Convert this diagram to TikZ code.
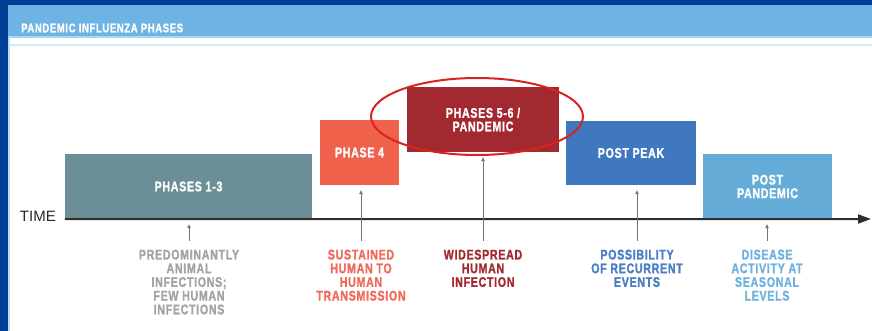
\documentclass[tikz,border=0pt]{standalone}
\usepackage{fontspec}
\setmainfont{Liberation Sans}
\newfontfamily\condfont[FakeStretch=0.76,LetterSpace=5,FakeBold=1.2]{Liberation Sans Bold}
\usetikzlibrary{arrows.meta}
\definecolor{frameblue}{HTML}{003F96}
\definecolor{headblue}{HTML}{6DB4E4}
\definecolor{c13}{HTML}{6C8F97}
\definecolor{c4}{HTML}{F0614C}
\definecolor{c56}{HTML}{A2292F}
\definecolor{cpp}{HTML}{3F78BF}
\definecolor{cppd}{HTML}{66ACD8}
\definecolor{t13}{HTML}{A3A3A3}
\definecolor{t4}{HTML}{F06A5A}
\definecolor{t56}{HTML}{A02A30}
\definecolor{tpp}{HTML}{4A7DC4}
\definecolor{tppd}{HTML}{70B2DE}
\definecolor{ellred}{HTML}{D8231E}
\begin{document}
\begin{tikzpicture}[x=1pt,y=-1pt,
  phasebox/.style={draw=none,text=white,inner sep=0pt,align=center,
    font=\condfont\fontsize{14}{13.5}\selectfont},
  desc/.style={anchor=north,inner sep=0pt,align=center,
    font=\condfont\fontsize{14}{13.7}\selectfont},
  pointer/.style={draw=black!55,line width=0.8pt,-{Triangle[length=4pt,width=3.5pt]},
    shorten <=9pt,shorten >=5pt},
  axisline/.style={draw=black!82,line width=2pt,-{Triangle[length=13pt,width=9pt]}}]
\useasboundingbox (0,0) rectangle (872,331);
% frame and header
\fill[white] (0,0) rectangle (872,331);
\fill[frameblue] (0,0) rectangle (8,331);
\fill[frameblue] (0,0) rectangle (872,5);
\fill[headblue] (8,5) rectangle (872,36);
\fill[headblue!55] (8,36) rectangle (872,38);
\fill[headblue!30] (8,44.5) rectangle (872,46);
\fill[headblue!45] (8,38) rectangle (10,331);
\node[anchor=west,inner sep=0pt,text=white,font=\condfont\fontsize{12.5}{12}\selectfont] (title) at (21,28) {PANDEMIC INFLUENZA PHASES};
% phase boxes
\node[phasebox,fill=c13,minimum width=247pt,minimum height=65pt] (p13) at (188.5,186.5) {PHASES 1-3};
\node[phasebox,fill=c4,minimum width=79pt,minimum height=65pt] (p4) at (359.5,152.5) {PHASE 4};
\node[phasebox,fill=c56,minimum width=152pt,minimum height=65pt] (p56) at (483,119.5) {PHASES 5-6 /\\PANDEMIC};
\node[phasebox,fill=cpp,minimum width=130pt,minimum height=64pt] (pp) at (631,153) {POST PEAK};
\node[phasebox,fill=cppd,minimum width=129pt,minimum height=65pt] (ppd) at (767.5,186.5) {POST\\PANDEMIC};
% highlight ellipse
\draw[ellred,line width=2pt] (477,116.5) ellipse [x radius=106, y radius=38.5];
% time axis
\node[anchor=base east,inner sep=0pt,text=black!85,font=\fontsize{15}{15}\selectfont] (time) at (56,222) {TIME};
\coordinate (axend) at (871,219);
\draw[axisline] (p13.south west) -- (axend);
% descriptions
\node[desc,text=t13] (l13) at (189,249.5) {PREDOMINANTLY\\ANIMAL\\INFECTIONS;\\FEW HUMAN\\INFECTIONS};
\node[desc,text=t4] (l4) at (361,249.5) {SUSTAINED\\HUMAN TO\\HUMAN\\TRANSMISSION};
\node[desc,text=t56] (l56) at (483,249.5) {WIDESPREAD\\HUMAN\\INFECTION};
\node[desc,text=tpp] (lpp) at (637,249.5) {POSSIBILITY\\OF RECURRENT\\EVENTS};
\node[desc,text=tppd] (lppd) at (767,249.5) {DISEASE\\ACTIVITY AT\\SEASONAL\\LEVELS};
% pointers
\draw[pointer] (l13.north) -- (l13.north |- p13.south);
\draw[pointer] (l4.north) -- (l4.north |- p4.south);
\draw[pointer] (l56.north) -- (l56.north |- p56.south);
\draw[pointer] (lpp.north) -- (lpp.north |- pp.south);
\draw[pointer] (lppd.north) -- (lppd.north |- ppd.south);
\end{tikzpicture}
\end{document}
